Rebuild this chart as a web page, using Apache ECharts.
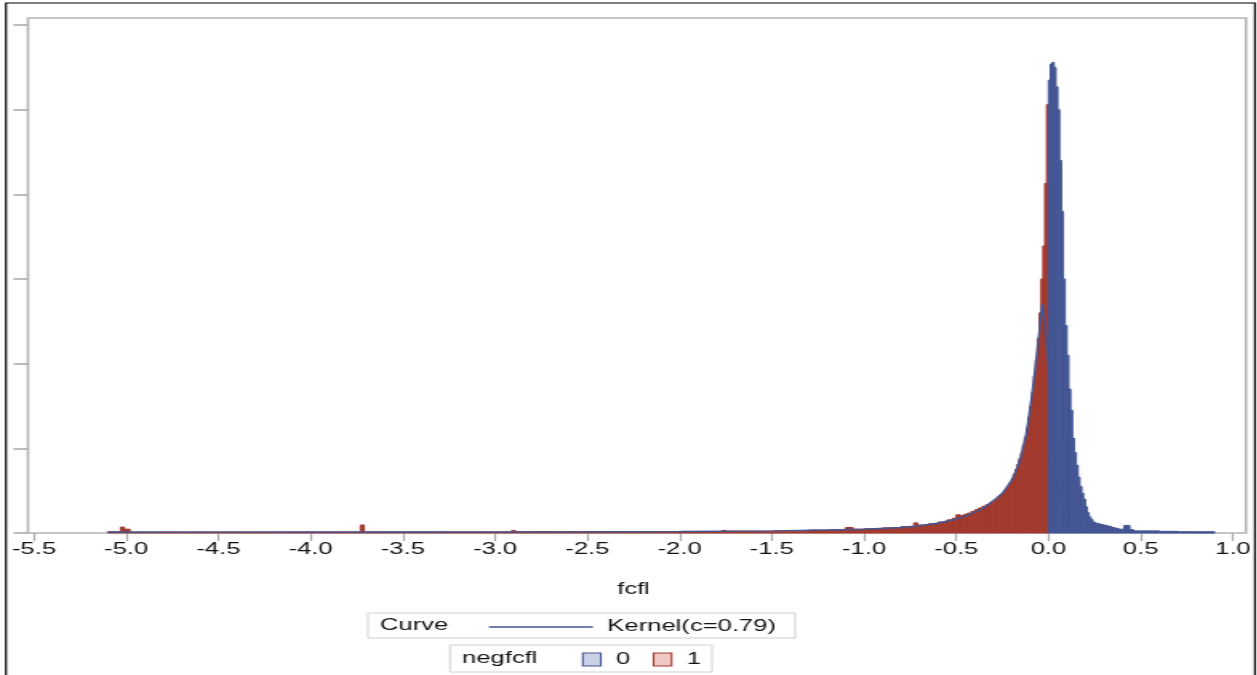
<!DOCTYPE html>
<html>
<head>
  <meta charset="utf-8">
  <title>fcfl histogram</title>
  <style>
    html, body { margin: 0; padding: 0; overflow: hidden; background: #fff; }
    /* the reference is a horizontally stretched SAS picture, so the canvas is stretched the same way */
    #main {
      width: 786px;
      height: 675px;
      transform: scaleX(1.6);
      transform-origin: 0 0;
    }
  </style>
</head>
<body>
<div id="main"></div>
<script src="https://cdn.jsdelivr.net/npm/echarts@6/dist/echarts.min.js"></script>
<script>
var myChart = echarts.init(document.getElementById("main"));

// negfcfl = 1 : [bin start, bin end, height]
var redBins = [
  [-5.10, -5.03, 0.015], [-5.03, -5.01, 0.07], [-5.01, -4.98, 0.045], [-4.98, -3.73, 0.012],
  [-3.73, -3.71, 0.095], [-3.71, -2.91, 0.012], [-2.91, -2.89, 0.03], [-2.89, -1.77, 0.014],
  [-1.77, -1.75, 0.03], [-1.75, -1.30, 0.022], [-1.30, -1.10, 0.035], [-1.10, -1.06, 0.065],
  [-1.06, -1.00, 0.045], [-1.00, -0.90, 0.05], [-0.90, -0.80, 0.06], [-0.80, -0.73, 0.075],
  [-0.73, -0.71, 0.12], [-0.71, -0.65, 0.095], [-0.65, -0.60, 0.11], [-0.60, -0.55, 0.13],
  [-0.55, -0.52, 0.155], [-0.52, -0.50, 0.175], [-0.50, -0.48, 0.215], [-0.48, -0.46, 0.205],
  [-0.46, -0.44, 0.22], [-0.44, -0.42, 0.235], [-0.42, -0.40, 0.255], [-0.40, -0.38, 0.275],
  [-0.38, -0.36, 0.295], [-0.36, -0.34, 0.315], [-0.34, -0.32, 0.335], [-0.32, -0.30, 0.355],
  [-0.30, -0.29, 0.37], [-0.29, -0.28, 0.39], [-0.28, -0.27, 0.41], [-0.27, -0.26, 0.43],
  [-0.26, -0.25, 0.45], [-0.25, -0.24, 0.47], [-0.24, -0.23, 0.50], [-0.23, -0.22, 0.53],
  [-0.22, -0.21, 0.56], [-0.21, -0.20, 0.60], [-0.20, -0.19, 0.64], [-0.19, -0.18, 0.69],
  [-0.18, -0.17, 0.75], [-0.17, -0.16, 0.81], [-0.16, -0.15, 0.88], [-0.15, -0.14, 0.95],
  [-0.14, -0.13, 1.04], [-0.13, -0.12, 1.13], [-0.12, -0.11, 1.24], [-0.11, -0.10, 1.37],
  [-0.10, -0.09, 1.50], [-0.09, -0.08, 1.66], [-0.08, -0.07, 1.85], [-0.07, -0.06, 2.05],
  [-0.06, -0.05, 2.30], [-0.05, -0.04, 2.60], [-0.04, -0.03, 3.00], [-0.03, -0.02, 3.39],
  [-0.02, -0.01, 4.13], [-0.01, 0.00, 5.06]
];

// negfcfl = 0
var blueBins = [
  [0.00, 0.01, 5.35], [0.01, 0.02, 5.54], [0.02, 0.03, 5.56], [0.03, 0.04, 5.50],
  [0.04, 0.05, 5.27], [0.05, 0.06, 5.00], [0.06, 0.07, 4.40], [0.07, 0.08, 3.80],
  [0.08, 0.09, 3.00], [0.09, 0.10, 2.45], [0.10, 0.11, 2.10], [0.11, 0.12, 1.70],
  [0.12, 0.13, 1.45], [0.13, 0.14, 1.12], [0.14, 0.15, 0.95], [0.15, 0.16, 0.80],
  [0.16, 0.17, 0.66], [0.17, 0.18, 0.55], [0.18, 0.19, 0.47], [0.19, 0.20, 0.40],
  [0.20, 0.21, 0.31], [0.21, 0.22, 0.24], [0.22, 0.23, 0.19], [0.23, 0.24, 0.16],
  [0.24, 0.25, 0.13], [0.25, 0.26, 0.12], [0.26, 0.28, 0.11], [0.28, 0.30, 0.10],
  [0.30, 0.32, 0.09], [0.32, 0.34, 0.08], [0.34, 0.36, 0.065], [0.36, 0.38, 0.055],
  [0.38, 0.41, 0.045], [0.41, 0.44, 0.09], [0.44, 0.46, 0.04], [0.46, 0.60, 0.025],
  [0.60, 0.70, 0.02], [0.70, 0.90, 0.015]
];

// kernel density curve
var kernelPts = [
  [-5.10, 0.008], [-4.50, 0.01], [-3.50, 0.012], [-2.50, 0.015], [-2.00, 0.018],
  [-1.50, 0.025], [-1.20, 0.035], [-1.00, 0.045], [-0.80, 0.065], [-0.70, 0.085],
  [-0.60, 0.115], [-0.50, 0.165], [-0.45, 0.20], [-0.40, 0.245], [-0.35, 0.30],
  [-0.30, 0.38], [-0.25, 0.47], [-0.20, 0.62], [-0.17, 0.77], [-0.15, 0.90],
  [-0.134, 1.04], [-0.12, 1.18], [-0.107, 1.36], [-0.088, 1.66], [-0.07, 1.98],
  [-0.052, 2.33], [-0.034, 2.70], [-0.005, 2.15], [0.02, 1.40], [0.05, 0.60],
  [0.08, 0.20], [0.12, 0.05], [0.20, 0.015], [0.50, 0.008], [0.90, 0.005]
];

var blue = "#445694";
var red = "#a23a2e";
var font = "Liberation Sans";

function drawBin(params, api) {
  var top = api.coord([api.value(0), api.value(2)]);
  var bottom = api.coord([api.value(1), 0]);
  var c = api.visual("color");
  return {
    type: "rect",
    shape: { x: top[0], y: top[1], width: bottom[0] - top[0], height: bottom[1] - top[1] },
    style: { fill: c, stroke: c, lineWidth: 1 }
  };
}

myChart.setOption({
  animation: false,
  grid: { left: 21.25, right: 15.375, top: 25, bottom: 142 },
  xAxis: {
    type: "value",
    min: -5.5,
    max: 1.0,
    interval: 0.5,
    name: "fcfl",
    nameLocation: "middle",
    nameGap: 49,
    nameTextStyle: { fontSize: 16, color: "#111", fontFamily: font },
    axisLine: { show: false, onZero: false },
    axisTick: { show: true, length: 8, lineStyle: { color: "#a9a9a9", width: 1.2 } },
    splitLine: { show: false },
    axisLabel: {
      margin: 9, fontSize: 16, color: "#111", fontFamily: font,
      formatter: function (v) { return v.toFixed(1); }
    }
  },
  yAxis: {
    type: "value",
    min: 0,
    max: 6,
    interval: 1,
    offset: 3.75,
    axisLine: { show: false, onZero: false },
    axisTick: { show: true, length: 9, lineStyle: { color: "#a9a9a9", width: 1.6 } },
    axisLabel: { show: false },
    splitLine: { show: false }
  },
  legend: [{
    data: [{ name: "Kernel(c=0.79)", icon: "rect", itemStyle: { color: blue } }],
    left: 305.6,
    top: 619,
    padding: 0,
    itemWidth: 65,
    itemHeight: 1.5,
    textStyle: { fontSize: 16, color: "#111", fontFamily: font, padding: [0, 0, 0, 4] }
  }, {
    data: [
      { name: "0", icon: "rect", itemStyle: { color: "#cbd1e6", borderColor: blue, borderWidth: 1.1 } },
      { name: "1", icon: "rect", itemStyle: { color: "#efc8c4", borderColor: red, borderWidth: 1.1 } }
    ],
    left: 363.75,
    top: 651.5,
    padding: 0,
    itemWidth: 11.25,
    itemHeight: 13,
    itemGap: 14,
    textStyle: { fontSize: 16, color: "#111", fontFamily: font, padding: [0, 0, 0, 4.5] }
  }],
  graphic: [
    { type: "rect", z: 0, shape: { x: 3.75, y: 3, width: 780.6, height: 700 },
      style: { fill: null, stroke: "#000", lineWidth: 1.2 } },
    { type: "rect", z: 0, shape: { x: 17.5, y: 18, width: 761.25, height: 515 },
      style: { fill: null, stroke: "#b4b4b4", lineWidth: 1.6 } },
    { type: "rect", z: 0, shape: { x: 230, y: 613, width: 267, height: 25 },
      style: { fill: null, stroke: "#cfcfcf", lineWidth: 1 } },
    { type: "text", z: 1, x: 237.5, y: 626,
      style: { text: "Curve", fontSize: 16, fill: "#111", fontFamily: font, verticalAlign: "middle" } },
    { type: "rect", z: 0, shape: { x: 281.25, y: 645, width: 163.75, height: 27 },
      style: { fill: null, stroke: "#cfcfcf", lineWidth: 1 } },
    { type: "text", z: 1, x: 288.75, y: 658.5,
      style: { text: "negfcfl", fontSize: 16, fill: "#111", fontFamily: font, verticalAlign: "middle" } }
  ],
  series: [{
    name: "1",
    type: "custom",
    renderItem: drawBin,
    itemStyle: { color: red },
    encode: { x: [0, 1], y: 2 },
    data: redBins,
    z: 2
  }, {
    name: "0",
    type: "custom",
    renderItem: drawBin,
    itemStyle: { color: blue },
    encode: { x: [0, 1], y: 2 },
    data: blueBins,
    z: 2
  }, {
    name: "Kernel(c=0.79)",
    type: "line",
    data: kernelPts,
    symbol: "none",
    lineStyle: { color: blue, width: 1.4 },
    itemStyle: { color: blue },
    z: 3
  }]
});
</script>
</body>
</html>
